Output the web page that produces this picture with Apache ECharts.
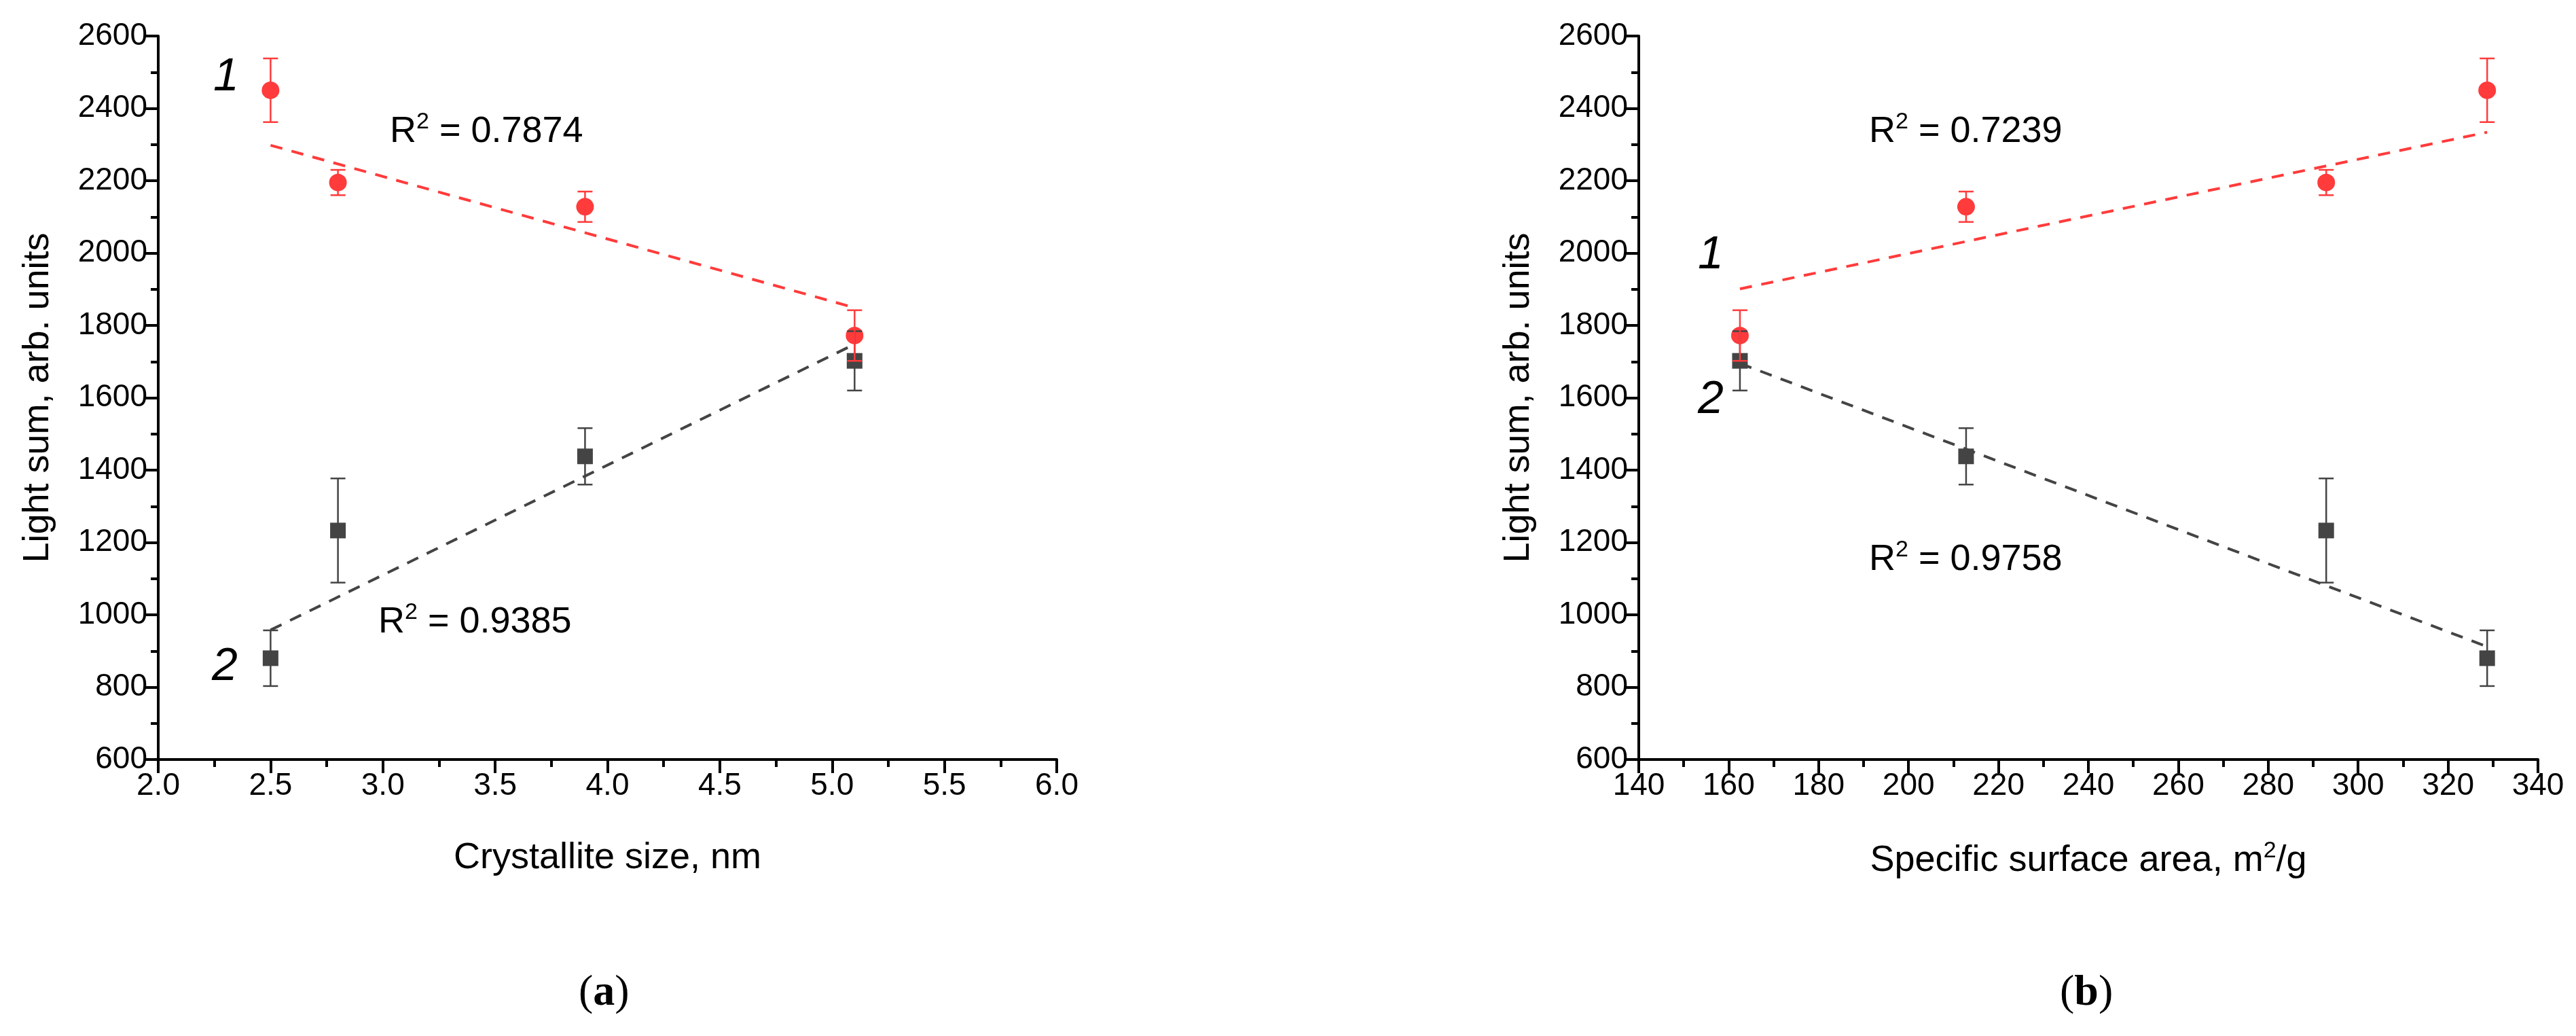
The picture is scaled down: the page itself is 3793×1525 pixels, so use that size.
<!DOCTYPE html>
<html>
<head>
<meta charset="utf-8">
<script src="https://cdn.jsdelivr.net/npm/echarts@6/dist/echarts.min.js"></script>
<style>
html,body{margin:0;padding:0;background:#fff;}
#c{width:3793px;height:1525px;}
</style>
</head>
<body>
<div id="c"></div>
<script>
// ---- data ----
const crystalliteSize = [2.5, 2.8, 3.9, 5.1];           // nm
const surfaceArea     = [328.7, 292.9, 212.8, 162.5];   // m2/g (same samples)
const lightSum1 = [2450, 2195, 2128, 1772];
const lightErr1 = [88, 35, 42, 70];
const lightSum2 = [880, 1233, 1438, 1702];
const lightErr2 = [77, 144, 78, 82];
// linear-fit end points
const fitSizeX  = [2.5, 5.1];
const fitSize1Y = [2298, 1849];
const fitSize2Y = [958, 1748];
const fitAreaX  = [162.5, 328.7];
const fitArea1Y = [1901, 2334];
const fitArea2Y = [1695, 912];
const r2Labels = ['0.7874', '0.9385', '0.7239', '0.9758'];
const yTicks = {min: 600, max: 2600, interval: 200};
const xSizeTicks = {min: 2.0, max: 6.0, interval: 0.5};
const xAreaTicks = {min: 140, max: 340, interval: 20};

const RED = '#FF3B3B';
const DARK = '#444444';
const FONT = '"Liberation Sans", Arial, sans-serif';
const SERIF = '"Liberation Serif", "Times New Roman", serif';

const chart = echarts.init(document.getElementById('c'));

function zip(xs, ys) { return xs.map((x, i) => [x, ys[i]]); }
function errData(xs, ys, es) { return xs.map((x, i) => [x, ys[i] - es[i], ys[i] + es[i]]); }

function errSeries(data, color, gi) {
  return {
    type: 'custom', xAxisIndex: gi, yAxisIndex: gi, z: 10,
    data: data,
    encode: {x: 0, y: [1, 2]},
    renderItem: function (params, api) {
      const x = api.value(0);
      const lo = api.coord([x, api.value(1)]);
      const hi = api.coord([x, api.value(2)]);
      const cap = 11;
      const st = {stroke: color, lineWidth: 2.5};
      return {
        type: 'group',
        children: [
          {type: 'line', shape: {x1: lo[0], y1: lo[1], x2: hi[0], y2: hi[1]}, style: st},
          {type: 'line', shape: {x1: lo[0] - cap, y1: lo[1], x2: lo[0] + cap, y2: lo[1]}, style: st},
          {type: 'line', shape: {x1: hi[0] - cap, y1: hi[1], x2: hi[0] + cap, y2: hi[1]}, style: st}
        ]
      };
    }
  };
}

function fitSeries(xs, ys, color, gi) {
  return {
    type: 'line', xAxisIndex: gi, yAxisIndex: gi, z: 3,
    data: zip(xs, ys), symbol: 'none', silent: true,
    lineStyle: {color: color, width: 4, type: [18, 14]}
  };
}

function pointSeries(xs, ys, color, symbol, size, gi) {
  return {
    type: 'scatter', xAxisIndex: gi, yAxisIndex: gi, z: 5,
    data: zip(xs, ys), symbol: symbol, symbolSize: size,
    itemStyle: {color: color, opacity: 1}
  };
}

const axisLine = {show: true, onZero: false, lineStyle: {color: '#000', width: 4}};
const axisTick = {show: true, inside: false, length: 20, lineStyle: {color: '#000', width: 4}};
const minorTick = {show: true, splitNumber: 2, length: 11, lineStyle: {color: '#000', width: 4}};
const axisLabel = {color: '#000', fontSize: 46, fontFamily: FONT, margin: 16};
const nameStyle = {color: '#000', fontSize: 54, fontFamily: FONT};

function yAxis(gi) {
  return {
    type: 'value', gridIndex: gi, min: yTicks.min, max: yTicks.max, interval: yTicks.interval,
    axisLine: axisLine, axisTick: axisTick, minorTick: minorTick,
    axisLabel: Object.assign({}, axisLabel, {formatter: v => String(v)}),
    splitLine: {show: false},
    name: 'Light sum, arb. units', nameLocation: 'middle', nameGap: 150, nameTextStyle: nameStyle
  };
}

function r2Text(x, y, val) {
  return {
    type: 'text', left: x, top: y, z: 100,
    style: {
      text: '{r|R}{s|2}{r| = ' + val + '}',
      rich: {
        r: {fontSize: 54, fontFamily: FONT, fill: '#000', lineHeight: 62},
        s: {fontSize: 34, fontFamily: FONT, fill: '#000', verticalAlign: 'top', lineHeight: 62, padding: [0, 0, 18, 0]}
      }
    }
  };
}

function curveNum(x, y, t) {
  return {
    type: 'text', left: x, top: y, z: 100,
    style: {text: t, fontSize: 68, fontStyle: 'italic', fontFamily: FONT, fill: '#000'}
  };
}

function panelLabel(cx, letter) {
  return {
    type: 'text', left: cx - 42, top: 1430, z: 100,
    style: {
      text: '({b|' + letter + '})', fontSize: 64, fontFamily: SERIF, fill: '#000',
      rich: {b: {fontSize: 64, fontWeight: 'bold', fontFamily: SERIF, fill: '#000'}}
    }
  };
}

const option = {
  backgroundColor: '#fff',
  animation: false,
  grid: [
    {left: 233, top: 53, width: 1323, height: 1065},
    {left: 2413, top: 53, width: 1324, height: 1065}
  ],
  xAxis: [
    {
      type: 'value', gridIndex: 0, min: xSizeTicks.min, max: xSizeTicks.max, interval: xSizeTicks.interval,
      axisLine: axisLine, axisTick: axisTick, minorTick: minorTick,
      axisLabel: Object.assign({}, axisLabel, {formatter: v => v.toFixed(1)}),
      splitLine: {show: false},
      name: 'Crystallite size, nm', nameLocation: 'middle', nameGap: 118, nameTextStyle: nameStyle
    },
    {
      type: 'value', gridIndex: 1, min: xAreaTicks.min, max: xAreaTicks.max, interval: xAreaTicks.interval,
      axisLine: axisLine, axisTick: axisTick, minorTick: minorTick,
      axisLabel: Object.assign({}, axisLabel, {formatter: v => String(v)}),
      splitLine: {show: false},
      name: '{t|Specific surface area, m}{s|2}{t|/g}', nameLocation: 'middle', nameGap: 118,
      nameTextStyle: {
        color: '#000', fontSize: 54, fontFamily: FONT,
        rich: {
          t: {fontSize: 54, fontFamily: FONT, color: '#000', lineHeight: 62},
          s: {fontSize: 34, fontFamily: FONT, color: '#000', verticalAlign: 'top', lineHeight: 62, padding: [0, 0, 18, 0]}
        }
      }
    }
  ],
  yAxis: [yAxis(0), yAxis(1)],
  series: [
    fitSeries(fitSizeX, fitSize1Y, RED, 0),
    fitSeries(fitSizeX, fitSize2Y, DARK, 0),
    pointSeries(crystalliteSize, lightSum2, DARK, 'rect', 23, 0),
    pointSeries(crystalliteSize, lightSum1, RED, 'circle', 26, 0),
    errSeries(errData(crystalliteSize, lightSum2, lightErr2), DARK, 0),
    errSeries(errData(crystalliteSize, lightSum1, lightErr1), RED, 0),

    fitSeries(fitAreaX, fitArea1Y, RED, 1),
    fitSeries(fitAreaX, fitArea2Y, DARK, 1),
    pointSeries(surfaceArea, lightSum2, DARK, 'rect', 23, 1),
    pointSeries(surfaceArea, lightSum1, RED, 'circle', 26, 1),
    errSeries(errData(surfaceArea, lightSum2, lightErr2), DARK, 1),
    errSeries(errData(surfaceArea, lightSum1, lightErr1), RED, 1)
  ],
  graphic: [
    r2Text(574, 163, r2Labels[0]),
    r2Text(557, 885, r2Labels[1]),
    r2Text(2752, 163, r2Labels[2]),
    r2Text(2752, 793, r2Labels[3]),
    curveNum(314, 80, '1'),
    curveNum(312, 948, '2'),
    curveNum(2500, 342, '1'),
    curveNum(2500, 555, '2'),
    panelLabel(894, 'a'),
    panelLabel(3075, 'b')
  ]
};

chart.setOption(option);
</script>
</body>
</html>
